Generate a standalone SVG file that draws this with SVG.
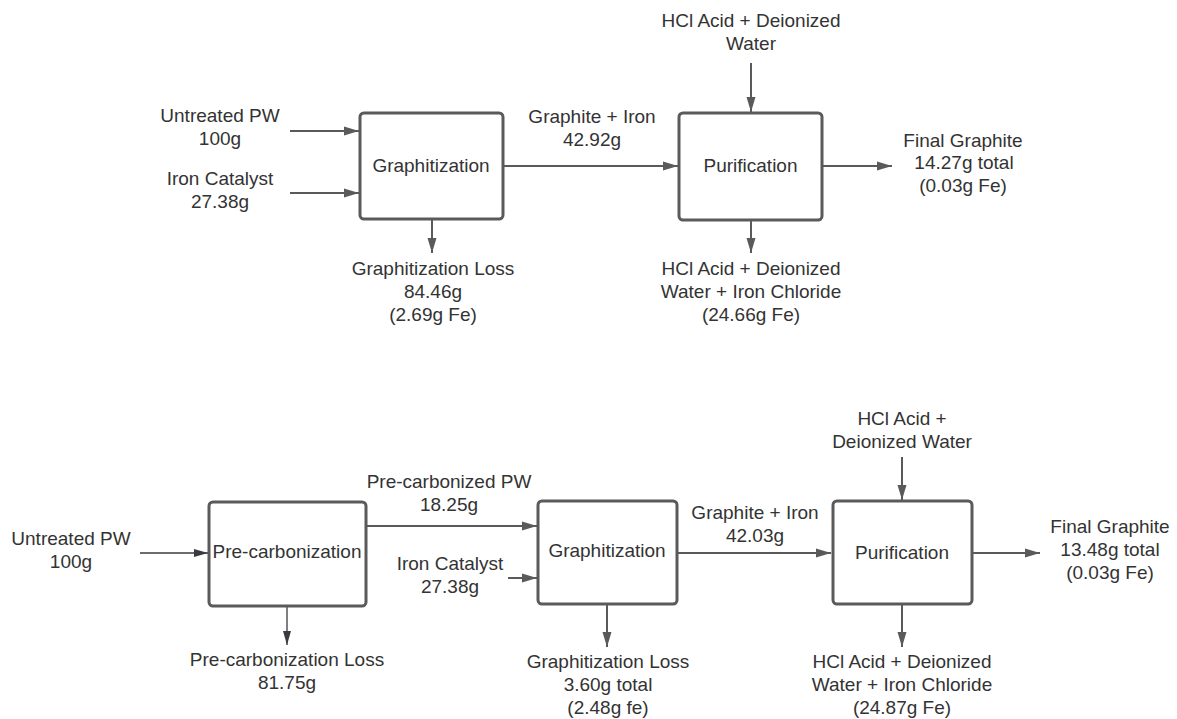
<svg xmlns="http://www.w3.org/2000/svg" width="1177" height="719" viewBox="0 0 1177 719">
<style>
text{font-family:"Liberation Sans",Arial,sans-serif;font-size:19px;fill:#333;text-anchor:middle}
.box{fill:#fff;stroke:#5a5a5a;stroke-width:3}
.c{stroke:#5a5a5a;stroke-width:2;fill:none;marker-end:url(#ah)}
.d{stroke:#3a3a40;stroke-width:1.3;fill:none;marker-end:url(#ah2)}
</style>
<defs>
<marker id="ah" viewBox="0 0 15 10" refX="15" refY="5" markerWidth="15" markerHeight="10" markerUnits="userSpaceOnUse" orient="auto"><path d="M0,0.5 L15,5 L0,9.5 Z" fill="#5a5a5a"/></marker>
<marker id="ah2" viewBox="0 0 14 9" refX="14" refY="4.5" markerWidth="14" markerHeight="9" markerUnits="userSpaceOnUse" orient="auto"><path d="M0,0.5 L14,4.5 L0,8.5 Z" fill="#3a3a40"/></marker>
</defs>
<rect width="1177" height="719" fill="#fff"/>
<g id="connectors">
<path class="c" d="M290,131 H359"/>
<path class="c" d="M290,193 H359"/>
<path class="c" d="M503,166 H678"/>
<path class="c" d="M751,63 V112"/>
<path class="c" d="M822,166 H892"/>
<path class="c" d="M432,219 V253"/>
<path class="c" d="M751,220 V253"/>
<path class="d" d="M140,553 H208"/>
<path class="d" d="M287,606 V645"/>
<path class="c" d="M366,526 H537"/>
<path class="c" d="M508,578 H537"/>
<path class="c" d="M677,553 H831"/>
<path class="c" d="M902,457 V500"/>
<path class="c" d="M607,604 V647"/>
<path class="c" d="M902,604 V647"/>
<path class="c" d="M972,553 H1040"/>
</g>
<g id="top-graphitization"><rect class="box" x="360" y="113" width="143" height="106" rx="4"/><text x="431" y="172">Graphitization</text></g>
<g id="top-purification"><rect class="box" x="679" y="113" width="143" height="107" rx="4"/><text x="750.5" y="172">Purification</text></g>
<g id="top-untreated"><text x="220" y="122">Untreated PW</text><text x="220" y="145">100g</text></g>
<g id="top-iron"><text x="220" y="185">Iron Catalyst</text><text x="220" y="208">27.38g</text></g>
<g id="top-graphloss"><text x="433" y="275">Graphitization Loss</text><text x="433" y="298">84.46g</text><text x="433" y="321">(2.69g Fe)</text></g>
<g id="top-graphiron"><text x="592" y="123">Graphite + Iron</text><text x="592" y="146">42.92g</text></g>
<g id="top-hcl-in"><text x="751" y="27">HCl Acid + Deionized</text><text x="751" y="50">Water</text></g>
<g id="top-hcl-out"><text x="751" y="275">HCl Acid + Deionized</text><text x="751" y="298">Water + Iron Chloride</text><text x="751" y="321">(24.66g Fe)</text></g>
<g id="top-final"><text x="963" y="147">Final Graphite</text><text x="964" y="169">14.27g total</text><text x="963" y="192">(0.03g Fe)</text></g>
<g id="bot-precarb"><rect class="box" x="209" y="502" width="157" height="104" rx="4"/><text x="287" y="558">Pre-carbonization</text></g>
<g id="bot-graphitization"><rect class="box" x="538" y="501" width="139" height="103" rx="4"/><text x="607" y="557">Graphitization</text></g>
<g id="bot-purification"><rect class="box" x="833" y="501" width="139" height="103" rx="4"/><text x="902" y="559">Purification</text></g>
<g id="bot-untreated"><text x="71" y="545">Untreated PW</text><text x="71" y="568">100g</text></g>
<g id="bot-precarbloss"><text x="287" y="666">Pre-carbonization Loss</text><text x="287" y="689">81.75g</text></g>
<g id="bot-precarbpw"><text x="449" y="488">Pre-carbonized PW</text><text x="449" y="511">18.25g</text></g>
<g id="bot-iron"><text x="450" y="570">Iron Catalyst</text><text x="450" y="593">27.38g</text></g>
<g id="bot-graphloss"><text x="608" y="668">Graphitization Loss</text><text x="608" y="691">3.60g total</text><text x="608" y="714">(2.48g fe)</text></g>
<g id="bot-graphiron"><text x="755" y="519">Graphite + Iron</text><text x="755" y="542">42.03g</text></g>
<g id="bot-hcl-in"><text x="902" y="425">HCl Acid +</text><text x="902" y="448">Deionized Water</text></g>
<g id="bot-hcl-out"><text x="902" y="668">HCl Acid + Deionized</text><text x="902" y="691">Water + Iron Chloride</text><text x="902" y="714">(24.87g Fe)</text></g>
<g id="bot-final"><text x="1110" y="533">Final Graphite</text><text x="1110" y="556">13.48g total</text><text x="1110" y="579">(0.03g Fe)</text></g>
</svg>
